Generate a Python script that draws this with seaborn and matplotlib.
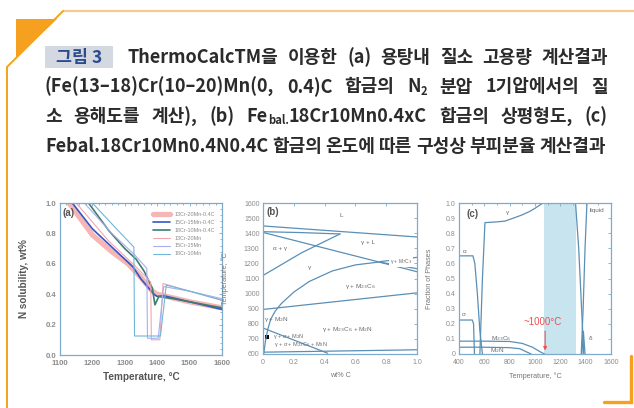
import matplotlib
matplotlib.use("Agg")
import matplotlib.pyplot as plt
import seaborn as sns
from matplotlib.patches import Polygon, Rectangle
from matplotlib.ticker import MultipleLocator, FixedLocator
from matplotlib import font_manager

# ---------------- data ----------------
# (a) nitrogen solubility vs temperature
a_labels = ["13Cr-20Mn-0.4C", "15Cr-15Mn-0.4C", "18Cr-10Mn-0.4C",
            "13Cr-20Mn", "15Cr-15Mn", "18Cr-10Mn"]
a_T_13_20_C = [1128, 1200, 1260, 1310, 1350, 1385, 1400, 1450, 1500, 1550, 1600]
a_N_13_20_C = [1.0, 0.79, 0.68, 0.60, 0.51, 0.42, 0.40, 0.375, 0.35, 0.33, 0.31]
a_T_15_15_C = [1138, 1200, 1260, 1325, 1350, 1390, 1400, 1420, 1500, 1600]
a_N_15_15_C = [1.0, 0.83, 0.71, 0.58, 0.50, 0.40, 0.385, 0.39, 0.35, 0.30]
a_T_18_10_C = [1188, 1250, 1300, 1335, 1360, 1385, 1393, 1405, 1450, 1500, 1600]
a_N_18_10_C = [1.0, 0.82, 0.70, 0.63, 0.55, 0.44, 0.33, 0.385, 0.37, 0.35, 0.31]
a_T_13_20 = [1150, 1250, 1330, 1380, 1382, 1408, 1418, 1500, 1600]
a_N_13_20 = [1.0, 0.75, 0.59, 0.48, 0.10, 0.10, 0.47, 0.42, 0.36]
a_T_15_15 = [1175, 1260, 1330, 1368, 1370, 1403, 1420, 1500, 1600]
a_N_15_15 = [1.0, 0.80, 0.66, 0.57, 0.11, 0.11, 0.45, 0.42, 0.37]
a_T_18_10 = [1200, 1270, 1328, 1330, 1410, 1428, 1500, 1600]
a_N_18_10 = [1.0, 0.84, 0.71, 0.125, 0.125, 0.46, 0.42, 0.36]
a_xticks = [1100, 1200, 1300, 1400, 1500, 1600]
a_yticks = [0.0, 0.2, 0.4, 0.6, 0.8, 1.0]

# (b) phase diagram boundaries (wt% C, temperature)
b_liq_C, b_liq_T = [0.0, 1.0], [1448, 1375]
b_delta_C, b_delta_T = [0.0, 0.25, 0.5], [1410, 1404, 1395]
b_sol_C, b_sol_T = [0.0, 0.5, 1.0], [1405, 1275, 1145]
b_ag_C, b_ag_T = [0.0, 0.25, 0.5], [1120, 1270, 1395]
b_m7_top_C, b_m7_top_T = [0.76, 1.0], [1212, 1240]
b_m7_bot_C, b_m7_bot_T = [0.76, 1.0], [1208, 1165]
b_solvus_C = [0.005, 0.015, 0.03, 0.05, 0.08, 0.12, 0.2, 0.3, 0.45, 0.6, 0.76]
b_solvus_T = [600, 680, 760, 830, 885, 935, 1010, 1080, 1150, 1190, 1210]
b_900_C, b_900_T = [0.0, 1.0], [895, 1005]
b_sigma_C, b_sigma_T = [0.0, 0.42], [772, 605]
b_low_C, b_low_T = [0.0, 1.0], [612, 628]
b_dot_C, b_dot_T = [0.025], [713]
b_xticks = [0.0, 0.2, 0.4, 0.6, 0.8, 1.0]
b_xticklabels = ["0", "0.2", "0.4", "0.6", "0.8", "1.0"]
b_yticks = [600, 700, 800, 900, 1000, 1100, 1200, 1300, 1400, 1500, 1600]

# (c) phase fractions vs temperature
c_gamma_T = [565, 585, 605, 700, 763, 830, 895, 960, 1000, 1063, 1320, 1345, 1365, 1385]
c_gamma_F = [0.0, 0.5, 0.87, 0.875, 0.88, 0.90, 0.92, 0.945, 0.965, 1.0, 1.0, 0.7, 0.35, 0.0]
c_liq_T = [1365, 1380, 1395, 1410, 1600]
c_liq_F = [0.0, 0.3, 0.7, 1.0, 1.0]
c_delta_T = [1370, 1382, 1395]
c_delta_F = [0.0, 0.15, 0.0]
c_alpha_T = [400, 510, 525, 545, 565, 585]
c_alpha_F = [0.65, 0.65, 0.6, 0.4, 0.15, 0.0]
c_sigma_T = [400, 505, 515, 522]
c_sigma_F = [0.225, 0.225, 0.2, 0.0]
c_m23_T = [400, 600, 800, 900, 980, 1040, 1075]
c_m23_F = [0.085, 0.085, 0.083, 0.07, 0.045, 0.015, 0.0]
c_m2n_T = [400, 600, 800, 880, 930, 970]
c_m2n_F = [0.045, 0.045, 0.042, 0.035, 0.015, 0.0]
c_band = [1070, 1325]
c_mark_T = 1080
c_xticks = [400, 600, 800, 1000, 1200, 1400, 1600]
c_yticks = [0.0, 0.1, 0.2, 0.3, 0.4, 0.5, 0.6, 0.7, 0.8, 0.9, 1.0]
c_yticklabels = ["0", "0.1", "0.2", "0.3", "0.4", "0.5", "0.6", "0.7", "0.8", "0.9", "1.0"]

# caption lines: each word is a string or a list of (text, is_subscript) runs
cap_line1 = ["ThermoCalcTM을", "이용한", "(a)", "용탕내", "질소", "고용량", "계산결과"]
cap_line2 = ["(Fe(13–18)Cr(10–20)Mn(0,", "0.4)C", "합금의", [("N", 0), ("2", 1)],
             "분압", "1기압에서의", "질"]
cap_line3 = ["소", "용해도를", "계산),", "(b)", [("Fe", 0), ("bal.", 1), ("18Cr10Mn0.4xC", 0)],
             "합금의", "상평형도,", "(c)"]
cap_line4 = ["Febal.18Cr10Mn0.4N0.4C", "합금의", "온도에", "따른", "구성상", "부피분율", "계산결과"]
cap_badge = "그림 3"

# ---------------- figure ----------------
sns.set_theme(style="white")
plt.rcParams["font.family"] = ["Liberation Sans", "DejaVu Sans"]
W, H = 634, 408
fig = plt.figure(figsize=(W / 100, H / 100), dpi=100)
fig.patch.set_facecolor("white")

bg = fig.add_axes([0, 0, 1, 1], zorder=-5)
bg.set_xlim(0, W)
bg.set_ylim(H, 0)
bg.axis("off")

ORANGE = "#f5a11f"
LIGHT_OR = "#f8c98c"
# decorative frame
bg.add_patch(Polygon([[16, 19], [57, 19], [16, 58]], closed=True, color=ORANGE, lw=0))
bg.plot([63, W], [11, 11], color=LIGHT_OR, lw=1.6, solid_capstyle="butt")
bg.plot([63, 7, 7], [11, 67, H], color=ORANGE, lw=1.4, solid_joinstyle="miter")
bg.plot([604, 631, 631], [402, 402, 356], color=ORANGE, lw=2.4, solid_joinstyle="miter")

# caption fonts: narrow Latin glyphs with Korean fallback
KR = "Noto Sans CJK KR"
try:
    font_manager.findfont("Liberation Sans Narrow", fallback_to_default=False)
    CAP_FONT = ["Liberation Sans Narrow", KR, "DejaVu Sans"]
except Exception:
    CAP_FONT = [KR, "DejaVu Sans"]

# caption badge
bg.add_patch(Rectangle((45, 46), 68, 22, color="#d3d8e1", lw=0))
bg.text(79, 57.5, cap_badge, ha="center", va="center", fontsize=12.5, color="#2c4b8e",
        family=[KR, "DejaVu Sans"], weight="bold")

renderer = fig.canvas.get_renderer()


def justify(words, x0, x1, y, fs=13.0, color="#2b2b2b"):
    items = []
    total = 0.0
    for w in words:
        runs = w if isinstance(w, list) else [(w, 0)]
        objs = []
        wsum = 0.0
        for txt, sub in runs:
            t = bg.text(0, y + (4.5 if sub else 0), txt, ha="left", va="center",
                        fontsize=fs * (0.62 if sub else 1.0), color=color,
                        family=CAP_FONT, weight="bold")
            wd = t.get_window_extent(renderer).width
            objs.append((t, wd))
            wsum += wd
        items.append(objs)
        total += wsum
    gap = (x1 - x0 - total) / max(len(items) - 1, 1)
    x = x0
    for objs in items:
        for t, wd in objs:
            t.set_x(x)
            x += wd
        x += gap


justify(cap_line1, 128, 608, 57.5)
justify(cap_line2, 45, 608, 87)
justify(cap_line3, 45, 608, 116.5)
justify(cap_line4, 45, 606, 146)


def px_axes(l, t, r, b):
    return fig.add_axes([l / W, 1 - b / H, (r - l) / W, (b - t) / H])


SPINE = "#7eaacb"
TICKC = "#8c8c8c"


def style_axes(ax, fs):
    for s in ax.spines.values():
        s.set_color(SPINE)
        s.set_linewidth(0.9)
    ax.tick_params(which="both", direction="in", top=True, right=True,
                   color=SPINE, labelcolor=TICKC, labelsize=fs, width=0.6)
    ax.tick_params(which="major", length=2.5)
    ax.tick_params(which="minor", length=1.5)
    ax.tick_params(axis="x", pad=3.5)
    ax.tick_params(axis="y", pad=2.5)
    ax.set_facecolor("white")


# ---------------- (a) ----------------
ax_a = px_axes(60, 203, 222, 355)
a_styles = [
    (a_T_13_20_C, a_N_13_20_C, "#f6b6b6", 3.8),
    (a_T_15_15_C, a_N_15_15_C, "#3656c8", 1.2),
    (a_T_18_10_C, a_N_18_10_C, "#3f7d70", 1.2),
    (a_T_13_20, a_N_13_20, "#f2a6b2", 0.8),
    (a_T_15_15, a_N_15_15, "#a9aef0", 0.8),
    (a_T_18_10, a_N_18_10, "#6fb7d6", 0.8),
]
for (tx, ny, col, lw), lab in zip(a_styles, a_labels):
    sns.lineplot(x=tx, y=ny, ax=ax_a, color=col, lw=lw, label=lab,
                 estimator=None, sort=False)
ax_a.set_xlim(1100, 1600)
ax_a.set_ylim(0, 1.0)
ax_a.xaxis.set_major_locator(FixedLocator(a_xticks))
ax_a.yaxis.set_major_locator(FixedLocator(a_yticks))
ax_a.set_yticklabels([f"{v:.1f}" for v in a_yticks])
ax_a.xaxis.set_minor_locator(MultipleLocator(20))
ax_a.yaxis.set_minor_locator(MultipleLocator(0.04))
style_axes(ax_a, 5.6)
for lbl in ax_a.get_xticklabels() + ax_a.get_yticklabels():
    lbl.set_fontweight("bold")
ax_a.set_xlabel("Temperature, °C", fontsize=7.2, fontweight="bold", color="#555555")
ax_a.set_ylabel("N solubility, wt%", fontsize=7.2, fontweight="bold", color="#555555")
ax_a.xaxis.set_label_coords(0.5, -0.11)
ax_a.yaxis.set_label_coords(-0.19, 0.5)
ax_a.text(0.015, 0.965, "(a)", transform=ax_a.transAxes, ha="left", va="top",
          fontsize=7, fontweight="bold", color="#555555")
leg = ax_a.legend(loc="upper right", bbox_to_anchor=(0.98, 0.965), frameon=False,
                  fontsize=3.9, handlelength=3.0, handletextpad=1.0,
                  labelspacing=0.55, borderaxespad=0.2, labelcolor="#8a8a8a")

# ---------------- (b) ----------------
ax_b = px_axes(263, 203, 417, 354)
LINE = "#5a8fb6"
for cx, ty in [(b_liq_C, b_liq_T), (b_delta_C, b_delta_T), (b_sol_C, b_sol_T),
               (b_ag_C, b_ag_T), (b_m7_top_C, b_m7_top_T), (b_m7_bot_C, b_m7_bot_T),
               (b_solvus_C, b_solvus_T), (b_900_C, b_900_T), (b_sigma_C, b_sigma_T),
               (b_low_C, b_low_T)]:
    sns.lineplot(x=cx, y=ty, ax=ax_b, color=LINE, lw=0.9, estimator=None, sort=False)
sns.scatterplot(x=b_dot_C, y=b_dot_T, ax=ax_b, color="black", marker="s", s=6,
                edgecolor="none")
ax_b.set_xlim(0, 1.0)
ax_b.set_ylim(600, 1600)
ax_b.xaxis.set_major_locator(FixedLocator(b_xticks))
ax_b.set_xticklabels(b_xticklabels)
ax_b.yaxis.set_major_locator(FixedLocator(b_yticks))
style_axes(ax_b, 5.0)
ax_b.set_xlabel("wt% C", fontsize=5.2, color="#777777")
ax_b.set_ylabel("Temperature, °C", fontsize=5.2, color="#777777")
ax_b.xaxis.set_label_coords(0.5, -0.12)
ax_b.yaxis.set_label_coords(-0.22, 0.5)
LAB = dict(fontsize=4.6, color="#6a6a6a", ha="center", va="center")
ax_b.text(0.02, 1540, "(b)", fontsize=7, fontweight="bold", color="#555555",
          ha="left", va="center")
ax_b.text(0.51, 1520, "L", **LAB)
ax_b.text(0.11, 1300, "α + γ", **LAB)
ax_b.text(0.68, 1340, "γ + L", **LAB)
ax_b.text(0.895, 1212, "γ + M$_7$C$_3$", fontsize=3.6, color="#6a6a6a",
          ha="center", va="center",
          bbox=dict(boxstyle="square,pad=0.1", fc="white", ec="none"))
ax_b.text(0.30, 1175, "γ", **LAB)
ax_b.text(0.63, 1045, "γ + M$_{23}$C$_6$", **LAB)
ax_b.text(0.09, 830, "γ + M$_2$N", **LAB)
ax_b.text(0.55, 765, "γ + M$_{23}$C$_6$ + M$_2$N", **LAB)
ax_b.text(0.17, 718, "γ + σ + M$_2$N", fontsize=4.0, color="#6a6a6a", ha="center", va="center")
ax_b.text(0.25, 660, "γ + σ + M$_{23}$C$_6$ + M$_2$N", fontsize=4.0, color="#6a6a6a",
          ha="center", va="center")

# ---------------- (c) ----------------
ax_c = px_axes(459, 203, 611, 354)
ax_c.axvspan(c_band[0], c_band[1], color="#c7e4ef", lw=0, zorder=0)
for tx, fy in [(c_gamma_T, c_gamma_F), (c_liq_T, c_liq_F), (c_delta_T, c_delta_F),
               (c_alpha_T, c_alpha_F), (c_sigma_T, c_sigma_F), (c_m23_T, c_m23_F),
               (c_m2n_T, c_m2n_F)]:
    sns.lineplot(x=tx, y=fy, ax=ax_c, color=LINE, lw=0.9, estimator=None, sort=False)
ax_c.set_xlim(400, 1600)
ax_c.set_ylim(0, 1.0)
ax_c.xaxis.set_major_locator(FixedLocator(c_xticks))
ax_c.xaxis.set_minor_locator(MultipleLocator(100))
ax_c.yaxis.set_major_locator(FixedLocator(c_yticks))
ax_c.set_yticklabels(c_yticklabels)
style_axes(ax_c, 5.0)
ax_c.set_xlabel("Temperature, °C", fontsize=5.2, color="#777777")
ax_c.set_ylabel("Fraction of Phases", fontsize=5.2, color="#777777")
ax_c.xaxis.set_label_coords(0.5, -0.12)
ax_c.yaxis.set_label_coords(-0.17, 0.5)
ax_c.text(460, 0.93, "(c)", fontsize=7, fontweight="bold", color="#555555",
          ha="left", va="center")
ax_c.text(787, 0.935, "γ", **LAB)
ax_c.text(440, 0.68, "α", **LAB)
ax_c.text(440, 0.26, "σ", **LAB)
ax_c.text(1490, 0.95, "liquid", **LAB)
ax_c.text(1435, 0.1, "δ", **LAB)
ax_c.text(730, 0.105, "M$_{23}$C$_6$", **LAB)
ax_c.text(700, 0.02, "M$_2$N", **LAB)
ax_c.text(c_mark_T - 20, 0.21, "~1000°C", fontsize=7, color="#ee5050", ha="center", va="center")
ax_c.annotate("", xy=(c_mark_T, 0.005), xytext=(c_mark_T, 0.17),
              arrowprops=dict(arrowstyle="-|>", color="#ee5050", lw=0.8,
                              mutation_scale=5))

fig.savefig("out.png", dpi=100, facecolor="white")
